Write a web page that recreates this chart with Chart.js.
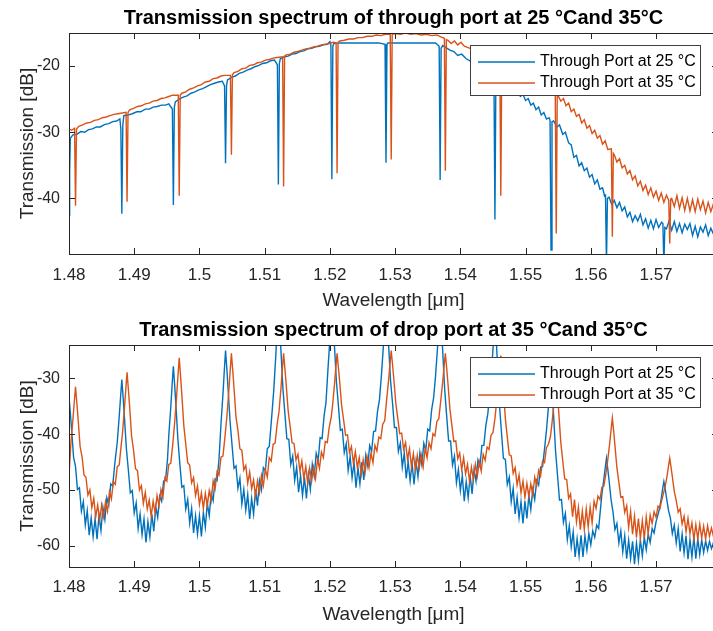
<!DOCTYPE html>
<html>
<head>
<meta charset="utf-8">
<title>Ring resonator transmission</title>
<script src="https://cdn.jsdelivr.net/npm/chart.js@4.4.0/dist/chart.umd.min.js"></script>
<style>
  html, body { margin: 0; padding: 0; background: #fff; }
  #figure { position: relative; width: 713px; height: 631px; overflow: hidden; background: #fff; }
  #figure canvas { position: absolute; left: 0; }
</style>
</head>
<body>
<div id="figure">
  <canvas id="throughChart" width="740" height="312" style="top:0"></canvas>
  <canvas id="dropChart" width="740" height="319" style="top:312px"></canvas>
</div>
<script>
// Axis ticks (wavelength in um, transmission in dB)
const wavelengthTicks = [1.48, 1.49, 1.50, 1.51, 1.52, 1.53, 1.54, 1.55, 1.56, 1.57];
const throughTicks = [-40, -30, -20];
const dropTicks = [-60, -50, -40, -30];

const seriesLabels = ['Through Port at 25 °C', 'Through Port at 35 °C'];
const seriesColors = ['#0072BD', '#D95319'];
const axisColor = '#262626';

// Through port, 25 C  [wavelength, dB]
const through25 = [
  [1.4800,-42.6],[1.4801,-36.0],[1.4802,-30.9],[1.4806,-30.4],[1.4812,-30.3],[1.4818,-29.9],[1.4824,-30.0],[1.4830,-29.6],
  [1.4836,-29.5],[1.4842,-29.2],[1.4848,-29.2],[1.4855,-28.8],[1.4861,-28.7],[1.4867,-28.4],[1.4873,-28.3],[1.4878,-28.0],
  [1.48795,-29.5],[1.4881,-42.3],[1.48825,-29.0],[1.4884,-27.5],[1.4890,-27.4],[1.4897,-27.2],[1.4904,-26.9],[1.4910,-26.9],
  [1.4917,-26.5],[1.4923,-26.5],[1.4929,-26.2],[1.4935,-26.1],[1.4942,-25.9],[1.4948,-25.9],[1.4953,-25.7],[1.49585,-26.5],
  [1.4960,-41.0],[1.49615,-26.2],[1.4963,-25.4],[1.4969,-25.0],[1.4975,-24.7],[1.4981,-24.5],[1.4987,-24.1],[1.4993,-23.9],
  [1.4999,-23.6],[1.5005,-23.4],[1.5011,-23.1],[1.5017,-22.8],[1.5023,-22.6],[1.5029,-22.4],[1.5035,-22.3],[1.50385,-23.0],
  [1.5040,-34.7],[1.50415,-23.0],[1.5043,-22.1],[1.5049,-21.7],[1.5055,-21.5],[1.5061,-21.1],[1.5067,-20.9],[1.5073,-20.6],
  [1.5079,-20.4],[1.5085,-20.1],[1.5091,-19.9],[1.5097,-19.6],[1.5103,-19.5],[1.5109,-19.2],[1.5115,-19.1],[1.51195,-19.8],
  [1.5121,-37.9],[1.51225,-19.6],[1.5124,-18.9],[1.5130,-18.6],[1.5136,-18.5],[1.5142,-18.2],[1.5148,-18.1],[1.5154,-17.8],
  [1.5160,-17.7],[1.5166,-17.4],[1.5172,-17.3],[1.5178,-17.1],[1.5184,-17.0],[1.5190,-16.8],[1.5196,-16.7],[1.5200,-16.3],
  [1.52015,-16.8],[1.5203,-37.1],[1.52045,-17.0],[1.5206,-16.6],[1.5215,-16.5],[1.5230,-16.5],[1.5245,-16.5],[1.5260,-16.5],
  [1.5275,-16.5],[1.52845,-16.7],[1.5286,-34.6],[1.52875,-16.7],[1.5289,-16.5],[1.5305,-16.5],[1.5320,-16.5],[1.5335,-16.5],
  [1.5350,-16.5],[1.5362,-16.5],[1.53675,-17.0],[1.5369,-37.2],[1.53705,-17.3],[1.5373,-16.9],[1.5378,-17.2],[1.5384,-17.6],
  [1.5390,-17.8],[1.5396,-18.4],[1.5402,-18.2],[1.5409,-18.9],[1.5420,-19.5],[1.5435,-20.3],[1.54515,-21.3],[1.5453,-43.2],
  [1.54545,-21.4],[1.5468,-22.6],[1.5480,-23.4],[1.5488,-23.8],[1.5492,-24.6],[1.5496,-24.3],[1.5500,-25.2],[1.5504,-24.9],
  [1.5508,-25.9],[1.5512,-25.6],[1.5516,-26.6],[1.5520,-26.2],[1.5524,-27.4],[1.5528,-27.0],[1.5532,-28.0],[1.5536,-27.8],
  [1.55375,-28.2],[1.5539,-47.8],[1.55405,-28.4],[1.5543,-28.3],[1.5548,-29.2],[1.5552,-28.9],[1.5557,-30.3],[1.5561,-30.0],
  [1.5566,-31.6],[1.5570,-31.9],[1.5574,-33.8],[1.5578,-33.5],[1.5582,-35.1],[1.5586,-34.6],[1.5590,-35.8],[1.5594,-35.4],
  [1.5598,-36.8],[1.5602,-36.4],[1.5606,-37.8],[1.5610,-37.2],[1.5614,-38.6],[1.5618,-38.4],[1.5621,-39.6],[1.56225,-39.5],
  [1.5624,-50.0],[1.56255,-40.0],[1.5628,-39.8],[1.5632,-40.9],[1.5636,-40.3],[1.5640,-41.4],[1.5644,-40.6],[1.5648,-41.9],
  [1.5652,-41.3],[1.5656,-42.8],[1.5660,-42.1],[1.5664,-43.5],[1.5668,-42.6],[1.5672,-43.4],[1.5676,-42.4],[1.5680,-44.0],
  [1.5684,-43.1],[1.5688,-44.5],[1.5692,-43.3],[1.5696,-44.6],[1.5700,-43.2],[1.5704,-44.4],[1.57085,-43.6],[1.57105,-43.8],
  [1.5712,-50.0],[1.57135,-44.4],[1.5716,-44.6],[1.5720,-43.4],[1.5724,-44.8],[1.5728,-43.5],[1.5732,-45.0],[1.5736,-43.8],
  [1.5740,-45.2],[1.5744,-43.9],[1.5748,-44.7],[1.5752,-43.8],[1.5756,-45.6],[1.5760,-44.2],[1.5764,-45.8],[1.5768,-44.3],
  [1.5772,-45.1],[1.5776,-44.0],[1.5780,-45.6],[1.5784,-44.5],[1.5788,-45.4],[1.5792,-44.3],[1.5795,-45.0]
];

// Through port, 35 C
const through35 = [
  [1.4800,-29.5],[1.4804,-29.7],[1.48085,-29.4],[1.4810,-41.1],[1.48115,-29.5],[1.4815,-29.1],[1.4821,-28.9],[1.4827,-28.6],
  [1.4833,-28.5],[1.4839,-28.2],[1.4845,-28.1],[1.4851,-27.8],[1.4857,-27.7],[1.4863,-27.5],[1.4869,-27.3],[1.4875,-27.2],
  [1.48875,-27.0],[1.4889,-40.5],[1.48905,-27.0],[1.4893,-26.6],[1.4899,-26.4],[1.4905,-26.1],[1.4911,-26.0],[1.4917,-25.7],
  [1.4923,-25.6],[1.4929,-25.3],[1.4935,-25.2],[1.4941,-24.9],[1.4947,-24.8],[1.4953,-24.6],[1.4959,-24.4],[1.49675,-24.4],
  [1.4969,-39.6],[1.49705,-24.4],[1.4973,-24.1],[1.4979,-23.9],[1.4985,-23.5],[1.4991,-23.3],[1.4997,-23.0],[1.5003,-22.8],
  [1.5009,-22.4],[1.5015,-22.3],[1.5021,-21.9],[1.5027,-21.8],[1.5033,-21.5],[1.5039,-21.4],[1.50475,-21.4],[1.5049,-33.4],
  [1.50505,-21.3],[1.5053,-21.0],[1.5059,-20.8],[1.5065,-20.4],[1.5071,-20.3],[1.5077,-19.9],[1.5083,-19.8],[1.5089,-19.5],
  [1.5095,-19.4],[1.5101,-19.1],[1.5107,-19.0],[1.5113,-18.8],[1.5119,-18.7],[1.51275,-18.6],[1.5129,-38.2],[1.51305,-18.5],
  [1.5133,-18.3],[1.5139,-18.2],[1.5145,-17.9],[1.5151,-17.8],[1.5157,-17.6],[1.5163,-17.4],[1.5169,-17.3],[1.5175,-17.1],
  [1.5181,-17.0],[1.5187,-16.8],[1.5193,-16.7],[1.5199,-16.6],[1.5205,-16.4],[1.52095,-16.5],[1.5211,-36.2],[1.52125,-16.4],
  [1.5215,-16.2],[1.5222,-16.1],[1.5229,-15.9],[1.5236,-15.9],[1.5243,-15.7],[1.5250,-15.7],[1.5257,-15.5],[1.5264,-15.5],
  [1.5271,-15.3],[1.5278,-15.4],[1.5285,-15.2],[1.52925,-15.2],[1.5294,-34.1],[1.52955,-15.2],[1.5300,-15.1],[1.5308,-15.2],
  [1.5316,-15.0],[1.5324,-15.2],[1.5332,-15.1],[1.5340,-15.3],[1.5348,-15.2],[1.5356,-15.4],[1.5364,-15.3],[1.5370,-15.6],
  [1.53755,-15.8],[1.5377,-35.8],[1.53785,-16.0],[1.5381,-16.1],[1.5386,-16.6],[1.5391,-16.2],[1.5396,-16.8],[1.5401,-16.4],
  [1.5406,-17.0],[1.5412,-17.2],[1.5420,-17.5],[1.5430,-18.0],[1.5440,-18.5],[1.5450,-19.0],[1.54605,-19.6],[1.5462,-39.6],
  [1.54635,-19.7],[1.5470,-20.2],[1.5480,-20.8],[1.5490,-21.4],[1.5500,-22.0],[1.5510,-22.6],[1.5520,-23.1],[1.5530,-23.6],
  [1.5538,-24.0],[1.55455,-24.3],[1.5547,-45.3],[1.55485,-24.6],[1.5550,-24.5],[1.5554,-25.3],[1.5558,-24.9],[1.5562,-26.0],
  [1.5566,-25.6],[1.5570,-26.9],[1.5574,-26.5],[1.5578,-27.6],[1.5582,-27.3],[1.5586,-28.6],[1.5590,-28.1],[1.5594,-29.4],
  [1.5598,-29.0],[1.5602,-30.2],[1.5606,-29.7],[1.5610,-30.9],[1.5614,-30.5],[1.5618,-31.8],[1.5622,-31.3],[1.5626,-32.6],
  [1.56315,-32.5],[1.5633,-45.8],[1.56345,-33.2],[1.5636,-33.4],[1.5640,-34.5],[1.5644,-34.0],[1.5648,-35.4],[1.5652,-35.0],
  [1.5656,-36.3],[1.5660,-35.8],[1.5664,-37.2],[1.5668,-36.6],[1.5672,-38.1],[1.5676,-37.4],[1.5680,-38.8],[1.5684,-38.0],
  [1.5688,-39.4],[1.5692,-38.4],[1.5696,-39.8],[1.5700,-38.9],[1.5704,-40.3],[1.5708,-39.2],[1.5712,-40.6],[1.5716,-39.5],
  [1.57195,-40.3],[1.5721,-46.8],[1.57225,-40.1],[1.5724,-40.0],[1.5728,-41.2],[1.5732,-39.6],[1.5736,-41.5],[1.5740,-39.9],
  [1.5744,-41.8],[1.5748,-40.0],[1.5752,-41.9],[1.5756,-40.2],[1.5760,-42.0],[1.5764,-40.1],[1.5768,-41.7],[1.5772,-40.4],
  [1.5776,-42.2],[1.5780,-40.6],[1.5784,-42.0],[1.5788,-40.8],[1.5792,-42.3],[1.5795,-41.2]
];

// Drop port, 25 C
const drop25 = [
  [1.4800,-33.3],[1.4802,-36.1],[1.4804,-39.2],[1.4807,-44.1],
  [1.4810,-45.8],[1.4813,-49.9],[1.4816,-49.6],[1.4819,-53.8],[1.4822,-52.1],[1.4825,-56.3],[1.4828,-53.7],[1.4831,-58.1],
  [1.4834,-55.0],[1.4837,-58.4],[1.4840,-55.1],[1.4843,-58.8],[1.4846,-54.6],[1.4849,-57.3],[1.4852,-53.1],[1.4855,-55.3],
  [1.4858,-51.4],[1.4861,-52.7],[1.4864,-48.9],[1.4867,-49.3],[1.4870,-45.5],
  [1.4874,-41.4],[1.4877,-36.8],[1.4879,-33.4],[1.4881,-30.2],[1.4883,-33.4],[1.4885,-37.0],[1.4888,-42.6],
  [1.4891,-46.4],[1.4894,-50.5],[1.4897,-50.1],[1.4900,-54.1],[1.4903,-52.3],[1.4906,-56.9],[1.4909,-54.3],[1.4912,-58.0],
  [1.4915,-55.2],[1.4918,-59.4],[1.4921,-55.7],[1.4924,-58.4],[1.4927,-54.3],[1.4930,-57.4],[1.4933,-53.0],[1.4936,-54.9],
  [1.4939,-51.1],[1.4942,-52.0],[1.4945,-48.4],[1.4948,-48.3],[1.4951,-44.5],
  [1.4953,-40.2],[1.4956,-35.2],[1.4958,-31.3],[1.4960,-27.8],[1.4962,-31.2],[1.4964,-35.0],[1.4967,-41.0],
  [1.4970,-45.4],[1.4973,-49.5],[1.4976,-49.2],[1.4979,-53.4],[1.4982,-51.7],[1.4985,-55.9],[1.4988,-53.3],[1.4991,-57.7],
  [1.4994,-54.6],[1.4997,-57.9],[1.5000,-54.6],[1.5003,-58.3],[1.5006,-54.0],[1.5009,-56.7],[1.5012,-52.4],[1.5015,-54.6],
  [1.5018,-50.6],[1.5021,-51.9],[1.5024,-48.0],[1.5027,-48.3],[1.5030,-44.4],
  [1.5033,-38.2],[1.5036,-32.9],[1.5038,-28.8],[1.5040,-25.0],[1.5042,-28.3],[1.5044,-32.0],[1.5047,-37.8],
  [1.5050,-42.0],[1.5053,-46.1],[1.5056,-45.7],[1.5059,-49.7],[1.5062,-47.9],[1.5065,-52.5],[1.5068,-49.9],[1.5071,-53.6],
  [1.5074,-50.8],[1.5077,-55.2],[1.5080,-51.5],[1.5083,-54.3],[1.5086,-49.9],[1.5089,-52.8],[1.5092,-48.3],[1.5095,-50.0],
  [1.5098,-46.0],[1.5101,-46.6],[1.5104,-42.6],[1.5107,-42.2],[1.5110,-38.0],
  [1.5114,-32.0],[1.5117,-26.0],[1.5119,-21.3],[1.5121,-17.0],[1.5123,-20.9],[1.5125,-25.1],[1.5128,-31.9],
  [1.5131,-36.3],[1.5134,-40.8],[1.5137,-40.9],[1.5140,-45.4],[1.5143,-43.9],[1.5146,-48.3],[1.5149,-45.9],[1.5152,-50.4],
  [1.5155,-47.4],[1.5158,-51.0],[1.5161,-47.7],[1.5164,-51.5],[1.5167,-47.2],[1.5170,-49.9],[1.5173,-45.4],[1.5176,-47.5],
  [1.5179,-43.4],[1.5182,-44.7],[1.5185,-40.6],[1.5188,-40.8],[1.5191,-36.8],[1.5194,-34.3],
  [1.5196,-30.3],[1.5199,-24.7],[1.5201,-20.5],[1.5203,-16.5],[1.5205,-20.2],[1.5207,-24.2],[1.5210,-30.6],
  [1.5213,-34.8],[1.5216,-39.3],[1.5219,-39.1],[1.5222,-43.3],[1.5225,-41.7],[1.5228,-46.5],[1.5231,-44.0],[1.5234,-47.8],
  [1.5237,-45.0],[1.5240,-49.6],[1.5243,-46.0],[1.5246,-48.9],[1.5249,-45.0],[1.5252,-48.2],[1.5255,-43.8],[1.5258,-45.7],
  [1.5261,-42.0],[1.5264,-43.0],[1.5267,-39.5],[1.5270,-39.4],[1.5273,-35.9],[1.5276,-33.8],
  [1.5279,-29.4],[1.5282,-24.2],[1.5284,-20.2],[1.5286,-16.5],[1.5288,-20.1],[1.5290,-24.1],[1.5293,-30.4],
  [1.5296,-34.4],[1.5299,-38.8],[1.5302,-38.8],[1.5305,-43.1],[1.5308,-41.6],[1.5311,-45.9],[1.5314,-43.4],[1.5317,-47.9],
  [1.5320,-44.9],[1.5323,-48.4],[1.5326,-45.2],[1.5329,-49.0],[1.5332,-44.9],[1.5335,-47.6],[1.5338,-43.3],[1.5341,-45.5],
  [1.5344,-41.6],[1.5347,-42.9],[1.5350,-39.1],[1.5353,-39.4],[1.5356,-35.6],[1.5359,-33.5],
  [1.5362,-29.5],[1.5365,-24.5],[1.5367,-20.6],[1.5369,-17.0],[1.5371,-20.9],[1.5373,-25.2],[1.5376,-32.0],
  [1.5379,-36.7],[1.5382,-41.2],[1.5385,-41.2],[1.5388,-45.5],[1.5391,-43.9],[1.5394,-48.7],[1.5397,-46.3],[1.5400,-50.1],
  [1.5403,-47.4],[1.5406,-52.0],[1.5409,-48.5],[1.5412,-51.4],[1.5415,-47.4],[1.5418,-50.7],[1.5421,-46.3],[1.5424,-48.4],
  [1.5427,-44.6],[1.5430,-45.7],[1.5433,-42.0],[1.5436,-42.0],[1.5439,-38.5],[1.5442,-36.4],
  [1.5446,-31.9],[1.5449,-26.7],[1.5451,-22.7],[1.5453,-19.0],[1.5455,-23.1],[1.5457,-27.6],[1.5460,-34.8],
  [1.5463,-39.6],[1.5466,-44.3],[1.5469,-44.5],[1.5472,-49.0],[1.5475,-47.7],[1.5478,-52.1],[1.5481,-49.7],[1.5484,-54.3],
  [1.5487,-51.3],[1.5490,-55.0],[1.5493,-52.1],[1.5496,-56.0],[1.5499,-52.0],[1.5502,-55.1],[1.5505,-51.0],[1.5508,-53.5],
  [1.5511,-49.9],[1.5514,-51.7],[1.5517,-48.3],[1.5520,-49.1],[1.5523,-45.9],[1.5526,-45.8],[1.5529,-42.7],
  [1.5532,-39.3],[1.5535,-35.1],[1.5537,-31.9],[1.5539,-29.0],[1.5541,-32.7],[1.5543,-36.7],[1.5546,-43.1],
  [1.5549,-47.4],[1.5552,-51.8],[1.5555,-51.7],[1.5558,-55.8],[1.5561,-54.2],[1.5564,-58.9],[1.5567,-56.4],[1.5570,-60.2],
  [1.5573,-57.5],[1.5576,-62.0],[1.5579,-58.7],[1.5582,-61.8],[1.5585,-58.1],[1.5588,-62.0],[1.5591,-58.2],[1.5594,-60.8],
  [1.5597,-57.8],[1.5600,-59.8],[1.5603,-57.3],[1.5606,-58.5],[1.5609,-56.3],[1.5612,-56.9],
  [1.5617,-50.7],[1.5620,-48.1],[1.5622,-46.1],[1.5624,-44.3],[1.5626,-46.2],[1.5628,-48.3],[1.5631,-51.7],
  [1.5634,-53.9],[1.5637,-57.1],[1.5640,-56.0],[1.5643,-59.5],[1.5646,-57.3],[1.5649,-61.1],[1.5652,-58.2],[1.5655,-62.3],
  [1.5658,-59.0],[1.5661,-62.3],[1.5664,-59.2],[1.5667,-63.3],[1.5670,-59.5],[1.5673,-62.6],[1.5676,-58.9],[1.5679,-61.8],
  [1.5682,-58.5],[1.5685,-60.7],[1.5688,-57.9],[1.5691,-59.4],[1.5694,-56.9],[1.5697,-57.7],[1.5700,-55.7],
  [1.5705,-53.5],[1.5708,-51.5],[1.5710,-49.9],[1.5712,-48.5],[1.5714,-49.8],[1.5716,-51.3],[1.5719,-53.6],
  [1.5722,-55.0],[1.5725,-57.8],[1.5728,-56.3],[1.5731,-59.5],[1.5734,-56.9],[1.5737,-61.0],[1.5740,-57.9],[1.5743,-61.3],
  [1.5746,-58.2],[1.5749,-62.4],[1.5752,-58.9],[1.5755,-62.0],[1.5758,-58.4],[1.5761,-62.3],[1.5764,-58.7],[1.5767,-61.6],
  [1.5770,-58.9],[1.5773,-61.2],[1.5776,-59.1],[1.5779,-60.8],[1.5782,-59.2],[1.5785,-60.5],[1.5788,-59.4],[1.5791,-60.2],
  [1.5794,-59.3]
];

// Drop port, 35 C
const drop35 = [
  [1.4800,-47.5],[1.4803,-41.4],[1.4806,-37.4],[1.4808,-34.3],[1.4810,-31.5],[1.4812,-34.3],[1.4814,-37.3],[1.4817,-42.2],
  [1.4820,-44.0],[1.4823,-47.3],[1.4826,-47.7],[1.4829,-50.9],[1.4832,-50.0],[1.4835,-53.2],[1.4838,-51.5],[1.4841,-54.8],
  [1.4844,-52.7],[1.4847,-55.4],[1.4850,-52.7],[1.4853,-54.8],[1.4856,-52.1],[1.4859,-53.8],[1.4862,-50.3],[1.4865,-51.6],
  [1.4868,-48.5],[1.4871,-49.0],[1.4874,-45.8],[1.4877,-45.5],[1.4880,-42.0],
  [1.4882,-39.8],[1.4885,-35.4],[1.4887,-32.0],[1.4889,-28.9],[1.4891,-31.9],[1.4893,-35.1],[1.4896,-40.4],
  [1.4899,-42.9],[1.4902,-46.2],[1.4905,-46.5],[1.4908,-50.0],[1.4911,-49.2],[1.4914,-52.4],[1.4917,-50.4],[1.4920,-53.4],
  [1.4923,-51.8],[1.4926,-54.7],[1.4929,-52.0],[1.4932,-54.1],[1.4935,-51.0],[1.4938,-52.8],[1.4941,-49.9],[1.4944,-51.3],
  [1.4947,-47.8],[1.4950,-48.4],[1.4953,-45.4],[1.4956,-45.2],[1.4959,-41.9],
  [1.4962,-37.9],[1.4965,-33.2],[1.4967,-29.6],[1.4969,-26.3],[1.4971,-29.5],[1.4973,-32.9],[1.4976,-38.4],
  [1.4979,-41.8],[1.4982,-45.1],[1.4985,-45.5],[1.4988,-48.7],[1.4991,-47.8],[1.4994,-51.0],[1.4997,-49.3],[1.5000,-52.6],
  [1.5003,-50.5],[1.5006,-53.3],[1.5009,-50.6],[1.5012,-52.8],[1.5015,-50.1],[1.5018,-51.9],[1.5021,-48.4],[1.5024,-49.8],
  [1.5027,-46.7],[1.5030,-47.3],[1.5033,-44.1],[1.5036,-43.9],[1.5039,-40.6],
  [1.5042,-36.9],[1.5045,-32.3],[1.5047,-28.8],[1.5049,-25.5],[1.5051,-28.5],[1.5053,-31.7],[1.5056,-36.9],
  [1.5059,-39.3],[1.5062,-42.6],[1.5065,-42.9],[1.5068,-46.4],[1.5071,-45.6],[1.5074,-48.8],[1.5077,-46.8],[1.5080,-49.8],
  [1.5083,-48.2],[1.5086,-51.1],[1.5089,-48.4],[1.5092,-50.5],[1.5095,-47.4],[1.5098,-49.2],[1.5101,-46.3],[1.5104,-47.7],
  [1.5107,-44.2],[1.5110,-44.8],[1.5113,-41.8],[1.5116,-41.6],[1.5119,-38.3],
  [1.5122,-35.9],[1.5125,-31.7],[1.5127,-28.5],[1.5129,-25.5],[1.5131,-28.2],[1.5133,-31.1],[1.5136,-35.8],
  [1.5139,-38.6],[1.5142,-41.5],[1.5145,-41.7],[1.5148,-44.6],[1.5151,-43.6],[1.5154,-46.6],[1.5157,-44.8],[1.5160,-48.0],
  [1.5163,-45.8],[1.5166,-48.8],[1.5169,-46.1],[1.5172,-48.4],[1.5175,-45.9],[1.5178,-47.9],[1.5181,-44.5],[1.5184,-46.1],
  [1.5187,-43.2],[1.5190,-44.2],[1.5193,-41.3],[1.5196,-41.5],[1.5199,-38.7],[1.5202,-37.0],
  [1.5204,-34.9],[1.5207,-31.1],[1.5209,-28.2],[1.5211,-25.5],[1.5213,-28.0],[1.5215,-30.6],[1.5218,-34.9],
  [1.5221,-37.4],[1.5224,-40.2],[1.5227,-40.1],[1.5230,-43.3],[1.5233,-42.2],[1.5236,-45.2],[1.5239,-43.1],[1.5242,-45.9],
  [1.5245,-44.2],[1.5248,-47.2],[1.5251,-44.6],[1.5254,-46.8],[1.5257,-44.0],[1.5260,-46.0],[1.5263,-43.4],[1.5266,-45.1],
  [1.5269,-42.0],[1.5272,-43.0],[1.5275,-40.5],[1.5278,-40.8],[1.5281,-38.2],[1.5284,-37.6],
  [1.5287,-33.8],[1.5290,-30.3],[1.5292,-27.5],[1.5294,-25.0],[1.5296,-27.5],[1.5298,-30.1],[1.5301,-34.4],
  [1.5304,-37.1],[1.5307,-39.9],[1.5310,-39.8],[1.5313,-42.7],[1.5316,-41.5],[1.5319,-44.5],[1.5322,-42.6],[1.5325,-45.8],
  [1.5328,-43.5],[1.5331,-46.4],[1.5334,-43.8],[1.5337,-46.1],[1.5340,-43.7],[1.5343,-45.8],[1.5346,-42.5],[1.5349,-44.2],
  [1.5352,-41.5],[1.5355,-42.6],[1.5358,-39.9],[1.5361,-40.3],[1.5364,-37.7],[1.5367,-37.2],
  [1.5370,-33.9],[1.5373,-30.5],[1.5375,-27.9],[1.5377,-25.5],[1.5379,-28.1],[1.5381,-30.9],[1.5384,-35.5],
  [1.5387,-38.4],[1.5390,-41.3],[1.5393,-41.2],[1.5396,-44.4],[1.5399,-43.4],[1.5402,-46.4],[1.5405,-44.2],[1.5408,-47.1],
  [1.5411,-45.4],[1.5414,-48.4],[1.5417,-45.9],[1.5420,-48.2],[1.5423,-45.4],[1.5426,-47.5],[1.5429,-44.9],[1.5432,-46.6],
  [1.5435,-43.6],[1.5438,-44.7],[1.5441,-42.3],[1.5444,-42.7],[1.5447,-40.2],[1.5450,-39.7],[1.5453,-37.2],
  [1.5455,-34.9],[1.5458,-31.2],[1.5460,-28.5],[1.5462,-25.9],[1.5464,-28.8],[1.5466,-32.0],[1.5469,-37.2],
  [1.5472,-40.6],[1.5475,-43.7],[1.5478,-43.9],[1.5481,-47.0],[1.5484,-46.0],[1.5487,-49.1],[1.5490,-47.3],[1.5493,-50.5],
  [1.5496,-48.4],[1.5499,-51.3],[1.5502,-48.8],[1.5505,-51.2],[1.5508,-48.9],[1.5511,-50.9],[1.5514,-47.7],[1.5517,-49.2],
  [1.5520,-46.5],[1.5523,-47.5],[1.5526,-44.8],[1.5529,-45.1],[1.5532,-42.4],[1.5535,-41.8],[1.5538,-40.5],
  [1.5540,-38.6],[1.5543,-35.1],[1.5545,-32.5],[1.5547,-30.0],[1.5549,-33.0],[1.5551,-36.3],[1.5554,-41.5],
  [1.5557,-44.8],[1.5560,-48.0],[1.5563,-48.1],[1.5566,-51.5],[1.5569,-50.7],[1.5572,-54.8],[1.5575,-51.7],[1.5578,-55.7],
  [1.5581,-53.1],[1.5584,-57.1],[1.5587,-53.8],[1.5590,-57.1],[1.5593,-53.4],[1.5596,-56.6],[1.5599,-53.1],[1.5602,-55.9],
  [1.5605,-52.0],[1.5608,-53.3],[1.5611,-51.1],[1.5614,-51.7],[1.5617,-49.5],[1.5620,-49.3],[1.5623,-47.2],
  [1.5626,-44.6],[1.5629,-41.6],[1.5631,-39.3],[1.5633,-37.1],[1.5635,-39.4],[1.5637,-42.0],[1.5640,-46.0],
  [1.5643,-48.6],[1.5646,-51.3],[1.5649,-51.2],[1.5652,-54.0],[1.5655,-52.8],[1.5658,-56.7],[1.5661,-53.8],[1.5664,-57.9],
  [1.5667,-54.7],[1.5670,-58.5],[1.5673,-55.1],[1.5676,-58.7],[1.5679,-55.5],[1.5682,-58.7],[1.5685,-54.8],[1.5688,-57.8],
  [1.5691,-54.5],[1.5694,-56.0],[1.5697,-53.9],[1.5700,-54.9],[1.5703,-52.9],[1.5706,-53.3],[1.5709,-51.7],
  [1.5714,-49.4],[1.5717,-47.4],[1.5719,-45.8],[1.5721,-44.3],[1.5723,-45.9],[1.5725,-47.6],[1.5728,-50.3],
  [1.5731,-51.9],[1.5734,-54.0],[1.5737,-53.4],[1.5740,-56.1],[1.5743,-54.7],[1.5746,-57.5],[1.5749,-55.1],[1.5752,-57.8],
  [1.5755,-55.9],[1.5758,-58.8],[1.5761,-56.2],[1.5764,-58.7],[1.5767,-56.1],[1.5770,-58.6],[1.5773,-56.5],[1.5776,-58.8],
  [1.5779,-56.4],[1.5782,-58.3],[1.5785,-56.8],[1.5788,-58.3],[1.5791,-57.0],[1.5794,-58.0]
];

Chart.defaults.font.family = '"Liberation Sans", Arial, Helvetica, sans-serif';

// Closed axes box with inward ticks, plus the boxed legend in the upper right
const axesFrame = {
  id: 'axesFrame',
  afterDraw(chart) {
    const { ctx, chartArea: a, scales } = chart;
    const tickLen = 6;
    ctx.save();
    ctx.strokeStyle = axisColor;
    ctx.lineWidth = 1;
    ctx.strokeRect(a.left + 0.5, a.top + 0.5, a.right - a.left, a.bottom - a.top);

    ctx.beginPath();
    scales.x.ticks.forEach(t => {
      const px = Math.round(scales.x.getPixelForValue(t.value)) + 0.5;
      ctx.moveTo(px, a.bottom); ctx.lineTo(px, a.bottom - tickLen);
      ctx.moveTo(px, a.top); ctx.lineTo(px, a.top + tickLen);
    });
    scales.y.ticks.forEach(t => {
      const py = Math.round(scales.y.getPixelForValue(t.value)) + 0.5;
      ctx.moveTo(a.left, py); ctx.lineTo(a.left + tickLen, py);
      ctx.moveTo(a.right, py); ctx.lineTo(a.right - tickLen, py);
    });
    ctx.stroke();

    // legend
    const w = 230, h = 50;
    const bx = Math.round(a.right - 18 - w), by = Math.round(a.top + 12);
    ctx.fillStyle = '#fff';
    ctx.fillRect(bx, by, w, h);
    ctx.strokeStyle = '#404040';
    ctx.strokeRect(bx + 0.5, by + 0.5, w, h);
    ctx.font = '16px "Liberation Sans", Arial, sans-serif';
    ctx.textBaseline = 'middle';
    chart.data.datasets.forEach((ds, i) => {
      const y = by + 17 + i * 21;
      ctx.strokeStyle = ds.borderColor;
      ctx.lineWidth = 1.3;
      ctx.beginPath();
      ctx.moveTo(bx + 8, y);
      ctx.lineTo(bx + 65, y);
      ctx.stroke();
      ctx.fillStyle = '#000';
      ctx.fillText(ds.label, bx + 70, y);
    });
    ctx.restore();
  }
};

function buildPanel(canvasId, titleText, series, yMin, yMax, yTickValues, xAxisHeight, tickPad, xTitlePad) {
  const ctx = document.getElementById(canvasId).getContext('2d');
  return new Chart(ctx, {
    type: 'line',
    data: {
      datasets: series.map((s, i) => ({
        label: seriesLabels[i],
        data: s.map(([x, y]) => ({ x, y })),
        borderColor: seriesColors[i],
        borderWidth: 1.4,
        pointRadius: 0,
        tension: 0,
        clip: 0,
        order: series.length - i
      }))
    },
    options: {
      responsive: false,
      animation: false,
      events: [],
      layout: { padding: { left: 0, right: 22, top: 0, bottom: 0 } },
      scales: {
        x: {
          type: 'linear',
          min: 1.48,
          max: 1.5795,
          afterBuildTicks: s => { s.ticks = wavelengthTicks.map(v => ({ value: v })); },
          afterFit: s => { s.height = xAxisHeight; },
          grid: { display: false, drawTicks: false },
          border: { display: false },
          ticks: {
            color: axisColor,
            font: { size: 17 },
            padding: tickPad,
            maxRotation: 0,
            callback: v => String(+v.toFixed(2))
          },
          title: {
            display: true,
            text: 'Wavelength [μm]',
            color: axisColor,
            font: { size: 19 },
            padding: { top: 0, bottom: xTitlePad }
          }
        },
        y: {
          type: 'linear',
          min: yMin,
          max: yMax,
          afterBuildTicks: s => { s.ticks = yTickValues.map(v => ({ value: v })); },
          afterFit: s => { s.width = 69; },
          grid: { display: false, drawTicks: false },
          border: { display: false },
          ticks: { color: axisColor, font: { size: 16 }, padding: 9 },
          title: {
            display: true,
            text: 'Transmission [dB]',
            color: axisColor,
            font: { size: 19 },
            padding: { top: 16, bottom: 0 }
          }
        }
      },
      plugins: {
        legend: { display: false },
        tooltip: { enabled: false },
        title: {
          display: true,
          text: titleText,
          fullSize: false,
          color: '#000',
          font: { size: 20, weight: 'bold', lineHeight: '22px' },
          padding: { top: 7, bottom: 4 }
        }
      }
    },
    plugins: [axesFrame]
  });
}

buildPanel('throughChart', 'Transmission spectrum of through port at 25 °Cand 35°C',
  [through25, through35], -48.4, -15, throughTicks, 58, 11, 0);
buildPanel('dropChart', 'Transmission spectrum of drop port at 35 °Cand 35°C',
  [drop25, drop35], -63.8, -24, dropTicks, 64, 10, 5);
</script>
</body>
</html>
